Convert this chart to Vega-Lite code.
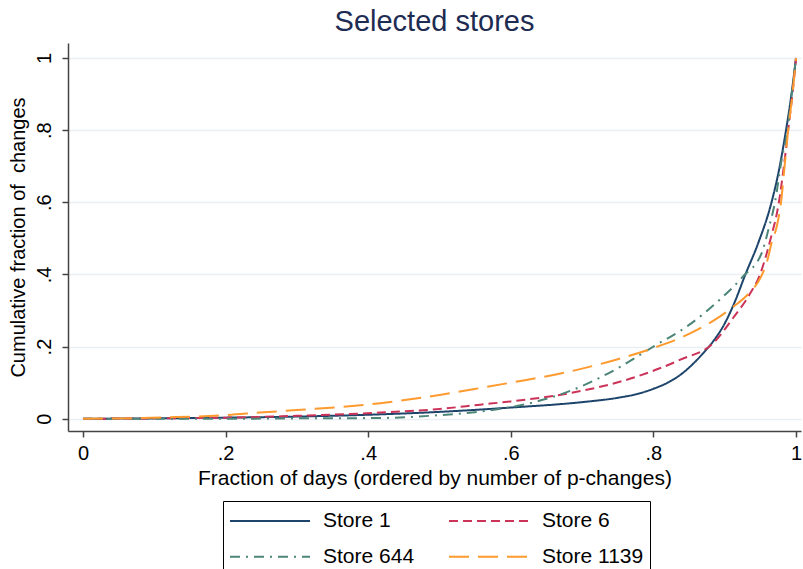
{
  "$schema": "https://vega.github.io/schema/vega-lite/v6.json",
  "width": 733,
  "height": 388,
  "autosize": {"type": "none"},
  "padding": {"left": 68, "top": 43, "right": 2, "bottom": 138},
  "background": "white",
  "title": {"text": "Selected stores", "fontSize": 29, "font": "Liberation Sans", "fontWeight": "normal", "color": "#1e2b52", "anchor": "middle", "offset": 6},
  "config": {
    "view": {"stroke": null},
    "font": "Liberation Sans",
    "legend": {
      "orient": "none", "legendX": 155, "legendY": 458, "columns": 2, "direction": "horizontal",
      "symbolType": "stroke", "symbolSize": 6400, "symbolStrokeWidth": 2,
      "clipHeight": 28, "rowPadding": 7.7, "columnPadding": 33, "labelOffset": 12,
      "labelFontSize": 21, "labelFont": "Liberation Sans", "labelColor": "black", "labelLimit": 300,
      "padding": 6, "strokeColor": "black", "fillColor": "white", "cornerRadius": 0
    }
  },
  "data": {"values": [
    {"store": "Store 1", "x": 0, "y": 0},
    {"store": "Store 1", "x": 0.1, "y": 0.001},
    {"store": "Store 1", "x": 0.2, "y": 0.003},
    {"store": "Store 1", "x": 0.3, "y": 0.006},
    {"store": "Store 1", "x": 0.4, "y": 0.011},
    {"store": "Store 1", "x": 0.5, "y": 0.019},
    {"store": "Store 1", "x": 0.6, "y": 0.031},
    {"store": "Store 1", "x": 0.7, "y": 0.046},
    {"store": "Store 1", "x": 0.75, "y": 0.058},
    {"store": "Store 1", "x": 0.78, "y": 0.07},
    {"store": "Store 1", "x": 0.8, "y": 0.083},
    {"store": "Store 1", "x": 0.82, "y": 0.1},
    {"store": "Store 1", "x": 0.84, "y": 0.125},
    {"store": "Store 1", "x": 0.856, "y": 0.153},
    {"store": "Store 1", "x": 0.87, "y": 0.182},
    {"store": "Store 1", "x": 0.884, "y": 0.215},
    {"store": "Store 1", "x": 0.9, "y": 0.264},
    {"store": "Store 1", "x": 0.915, "y": 0.328},
    {"store": "Store 1", "x": 0.928, "y": 0.395},
    {"store": "Store 1", "x": 0.947, "y": 0.487},
    {"store": "Store 1", "x": 0.965, "y": 0.595},
    {"store": "Store 1", "x": 0.976, "y": 0.688},
    {"store": "Store 1", "x": 0.986, "y": 0.8},
    {"store": "Store 1", "x": 0.993, "y": 0.89},
    {"store": "Store 1", "x": 1, "y": 1},

    {"store": "Store 6", "x": 0, "y": 0},
    {"store": "Store 6", "x": 0.1, "y": 0.001},
    {"store": "Store 6", "x": 0.2, "y": 0.003},
    {"store": "Store 6", "x": 0.3, "y": 0.008},
    {"store": "Store 6", "x": 0.417, "y": 0.017},
    {"store": "Store 6", "x": 0.5, "y": 0.027},
    {"store": "Store 6", "x": 0.557, "y": 0.039},
    {"store": "Store 6", "x": 0.6, "y": 0.048},
    {"store": "Store 6", "x": 0.683, "y": 0.071},
    {"store": "Store 6", "x": 0.777, "y": 0.117},
    {"store": "Store 6", "x": 0.837, "y": 0.163},
    {"store": "Store 6", "x": 0.884, "y": 0.21},
    {"store": "Store 6", "x": 0.912, "y": 0.28},
    {"store": "Store 6", "x": 0.935, "y": 0.345},
    {"store": "Store 6", "x": 0.9495, "y": 0.4},
    {"store": "Store 6", "x": 0.964, "y": 0.496},
    {"store": "Store 6", "x": 0.976, "y": 0.6},
    {"store": "Store 6", "x": 0.983, "y": 0.7},
    {"store": "Store 6", "x": 0.989, "y": 0.8},
    {"store": "Store 6", "x": 0.995, "y": 0.9},
    {"store": "Store 6", "x": 1, "y": 1},

    {"store": "Store 644", "x": 0, "y": 0},
    {"store": "Store 644", "x": 0.2, "y": 0},
    {"store": "Store 644", "x": 0.3, "y": 0.001},
    {"store": "Store 644", "x": 0.417, "y": 0.002},
    {"store": "Store 644", "x": 0.5, "y": 0.01},
    {"store": "Store 644", "x": 0.557, "y": 0.02},
    {"store": "Store 644", "x": 0.627, "y": 0.043},
    {"store": "Store 644", "x": 0.687, "y": 0.08},
    {"store": "Store 644", "x": 0.75, "y": 0.14},
    {"store": "Store 644", "x": 0.8, "y": 0.2},
    {"store": "Store 644", "x": 0.85, "y": 0.26},
    {"store": "Store 644", "x": 0.893, "y": 0.33},
    {"store": "Store 644", "x": 0.926, "y": 0.395},
    {"store": "Store 644", "x": 0.952, "y": 0.46},
    {"store": "Store 644", "x": 0.962, "y": 0.53},
    {"store": "Store 644", "x": 0.9705, "y": 0.6},
    {"store": "Store 644", "x": 0.98, "y": 0.72},
    {"store": "Store 644", "x": 0.988, "y": 0.8},
    {"store": "Store 644", "x": 0.994, "y": 0.9},
    {"store": "Store 644", "x": 1, "y": 1},

    {"store": "Store 1139", "x": 0, "y": 0},
    {"store": "Store 1139", "x": 0.122, "y": 0.004},
    {"store": "Store 1139", "x": 0.2, "y": 0.01},
    {"store": "Store 1139", "x": 0.248, "y": 0.017},
    {"store": "Store 1139", "x": 0.3, "y": 0.024},
    {"store": "Store 1139", "x": 0.417, "y": 0.043},
    {"store": "Store 1139", "x": 0.5, "y": 0.066},
    {"store": "Store 1139", "x": 0.557, "y": 0.085},
    {"store": "Store 1139", "x": 0.6, "y": 0.1},
    {"store": "Store 1139", "x": 0.683, "y": 0.131},
    {"store": "Store 1139", "x": 0.75, "y": 0.165},
    {"store": "Store 1139", "x": 0.8, "y": 0.196},
    {"store": "Store 1139", "x": 0.85, "y": 0.235},
    {"store": "Store 1139", "x": 0.893, "y": 0.283},
    {"store": "Store 1139", "x": 0.912, "y": 0.31},
    {"store": "Store 1139", "x": 0.935, "y": 0.35},
    {"store": "Store 1139", "x": 0.95, "y": 0.39},
    {"store": "Store 1139", "x": 0.96, "y": 0.44},
    {"store": "Store 1139", "x": 0.966, "y": 0.49},
    {"store": "Store 1139", "x": 0.973, "y": 0.533},
    {"store": "Store 1139", "x": 0.979, "y": 0.6},
    {"store": "Store 1139", "x": 0.984, "y": 0.7},
    {"store": "Store 1139", "x": 0.989, "y": 0.8},
    {"store": "Store 1139", "x": 0.995, "y": 0.9},
    {"store": "Store 1139", "x": 1, "y": 1}
  ]},
  "mark": {"type": "line", "strokeWidth": 2, "interpolate": "monotone", "clip": true},
  "encoding": {
    "x": {
      "field": "x", "type": "quantitative",
      "scale": {"domain": [-0.021, 1.007], "nice": false, "zero": false},
      "axis": {
        "title": "Fraction of days (ordered by number of p-changes)",
        "titleFont": "Liberation Sans", "titleFontSize": 21, "titleFontWeight": "normal", "titleColor": "black", "titlePadding": 4,
        "values": [0, 0.2, 0.4, 0.6, 0.8, 1],
        "labelExpr": "datum.value == 0 ? '0' : datum.value == 1 ? '1' : replace(format(datum.value, '.1f'), '0.', '.')",
        "labelFont": "Liberation Sans", "labelFontSize": 20, "labelColor": "black", "labelPadding": 6, "labelFlush": false,
        "grid": false, "domainColor": "#444444", "domainWidth": 1.5, "tickColor": "#444444", "tickSize": 6, "tickWidth": 1.5
      }
    },
    "y": {
      "field": "y", "type": "quantitative",
      "scale": {"domain": [-0.034, 1.0415], "nice": false, "zero": false},
      "axis": {
        "title": "Cumulative fraction of\u00a0 changes",
        "titleFont": "Liberation Sans", "titleFontSize": 20, "titleFontWeight": "normal", "titleColor": "black", "titlePadding": 6,
        "values": [0, 0.2, 0.4, 0.6, 0.8, 1],
        "labelExpr": "datum.value == 0 ? '0' : datum.value == 1 ? '1' : replace(format(datum.value, '.1f'), '0.', '.')",
        "labelAngle": -90, "labelAlign": "center", "labelBaseline": "bottom",
        "labelFont": "Liberation Sans", "labelFontSize": 20, "labelColor": "black", "labelPadding": 8, "labelFlush": false,
        "grid": true, "gridColor": "#e9eff2", "gridWidth": 1.5,
        "domainColor": "#444444", "domainWidth": 1.5, "tickColor": "#444444", "tickSize": 6, "tickWidth": 1.5
      }
    },
    "color": {
      "field": "store", "type": "nominal",
      "scale": {"domain": ["Store 1", "Store 6", "Store 644", "Store 1139"], "range": ["#1d446b", "#cc3358", "#4d8579", "#ff9a2e"]},
      "legend": {"title": null}
    },
    "strokeDash": {
      "field": "store", "type": "nominal",
      "scale": {"domain": ["Store 1", "Store 6", "Store 644", "Store 1139"], "range": [[1, 0], [9, 5], [10, 6, 2, 6], [20, 9]]},
      "legend": {"title": null}
    }
  }
}
